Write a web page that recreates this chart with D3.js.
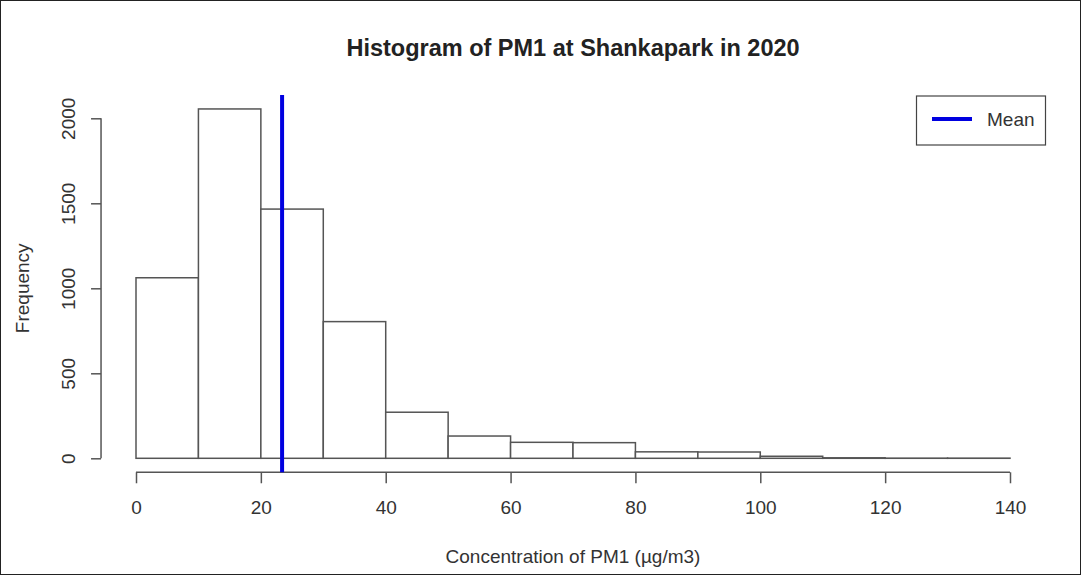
<!DOCTYPE html>
<html lang="en">

<head>
    <meta charset="UTF-8">
    <title>Histogram of PM1 at Shankapark in 2020</title>
    <script src="https://d3js.org/d3.v7.min.js"></script>
    <style>
        body {
            margin: 0;
            background: #fff;
        }

        svg {
            display: block;
            font-family: "Liberation Sans", Arial, sans-serif;
        }
    </style>
</head>

<body>
    <svg width="1081" height="575"></svg>

    <script>
        // bin edges and counts
        const breaks = [0, 10, 20, 30, 40, 50, 60, 70, 80, 90, 100, 110, 120, 130, 140];
        const counts = [1062, 2055, 1466, 804, 271, 131, 94, 92, 38, 37, 12, 3, 1, 1];
        const meanValue = 23.4;
        const xTicks = [0, 20, 40, 60, 80, 100, 120, 140];
        const yTicks = [0, 500, 1000, 1500, 2000];

        const svg = d3.select("svg");
        const ink = "#333";
        const lineCol = "#555";
        const fs = 19;

        const x = d3.scaleLinear().domain([0, 140]).range([136, 1010]);
        const y = d3.scaleLinear().domain([0, 2000]).range([458.3, 118.3]);

        // R style plot region: data range padded by 4%
        const yMax = d3.max(counts);
        const yLo = -0.04 * yMax, yHi = 1.04 * yMax;
        const xLo = -0.04 * 140;

        // outer frame
        svg.append("rect")
            .attr("x", 0.5).attr("y", 0.5)
            .attr("width", 1080).attr("height", 574)
            .attr("fill", "none").attr("stroke", "#222");

        // bars
        const bins = counts.map((c, i) => ({ x0: breaks[i], x1: breaks[i + 1], n: c }));
        svg.append("g")
            .selectAll("rect")
            .data(bins)
            .enter()
            .append("rect")
            .attr("x", d => x(d.x0))
            .attr("y", d => y(d.n))
            .attr("width", d => x(d.x1) - x(d.x0))
            .attr("height", d => y(0) - y(d.n))
            .attr("fill", "#fff")
            .attr("stroke", lineCol)
            .attr("stroke-width", 1.5);

        // x axis (drawn below the plot like R)
        const xAxis = svg.append("g")
            .attr("transform", `translate(0,${y(yLo)})`)
            .call(d3.axisBottom(x).tickValues(xTicks).tickSize(11).tickPadding(17).tickSizeOuter(0));
        xAxis.select(".domain")
            .attr("d", `M${x(0)},0H${x(140)}`);

        // y axis
        const yAxis = svg.append("g")
            .attr("transform", `translate(${x(xLo)},0)`)
            .call(d3.axisLeft(y).tickValues(yTicks).tickFormat(d3.format("d")).tickSize(10).tickSizeOuter(0));
        yAxis.select(".domain")
            .attr("d", `M0,${y(0)}V${y(2000)}`);
        yAxis.selectAll(".tick text")
            .attr("transform", "rotate(-90)")
            .attr("x", 0)
            .attr("y", -26)
            .attr("dy", 0)
            .attr("text-anchor", "middle");

        svg.selectAll(".domain, .tick line")
            .attr("stroke", lineCol)
            .attr("stroke-width", 1.5);
        svg.selectAll(".tick text")
            .attr("fill", ink)
            .attr("font-size", fs)
            .attr("font-family", "Liberation Sans, Arial, sans-serif");

        // mean line across the plot region
        svg.append("line")
            .attr("x1", x(meanValue)).attr("x2", x(meanValue))
            .attr("y1", y(yLo)).attr("y2", y(yHi))
            .attr("stroke", "#0000e0")
            .attr("stroke-width", 4);

        // title and axis labels
        svg.append("text")
            .attr("x", x(70)).attr("y", 56)
            .attr("text-anchor", "middle")
            .attr("font-size", 23.5)
            .attr("font-weight", "bold")
            .attr("fill", "#222")
            .text("Histogram of PM1 at Shankapark in 2020");

        svg.append("text")
            .attr("x", x(70)).attr("y", 563)
            .attr("text-anchor", "middle")
            .attr("font-size", fs)
            .attr("fill", ink)
            .text("Concentration of PM1 (µg/m3)");

        svg.append("text")
            .attr("transform", `translate(29,${y(1000)}) rotate(-90)`)
            .attr("text-anchor", "middle")
            .attr("font-size", fs)
            .attr("fill", ink)
            .text("Frequency");

        // legend
        const leg = svg.append("g");
        leg.append("rect")
            .attr("x", 916.5).attr("y", 96)
            .attr("width", 129).attr("height", 49)
            .attr("fill", "#fff")
            .attr("stroke", "#444")
            .attr("stroke-width", 1.2);
        leg.append("line")
            .attr("x1", 932).attr("x2", 972)
            .attr("y1", 119).attr("y2", 119)
            .attr("stroke", "#0000e0")
            .attr("stroke-width", 4);
        leg.append("text")
            .attr("x", 987).attr("y", 126)
            .attr("font-size", fs)
            .attr("fill", ink)
            .text("Mean");
    </script>
</body>

</html>
